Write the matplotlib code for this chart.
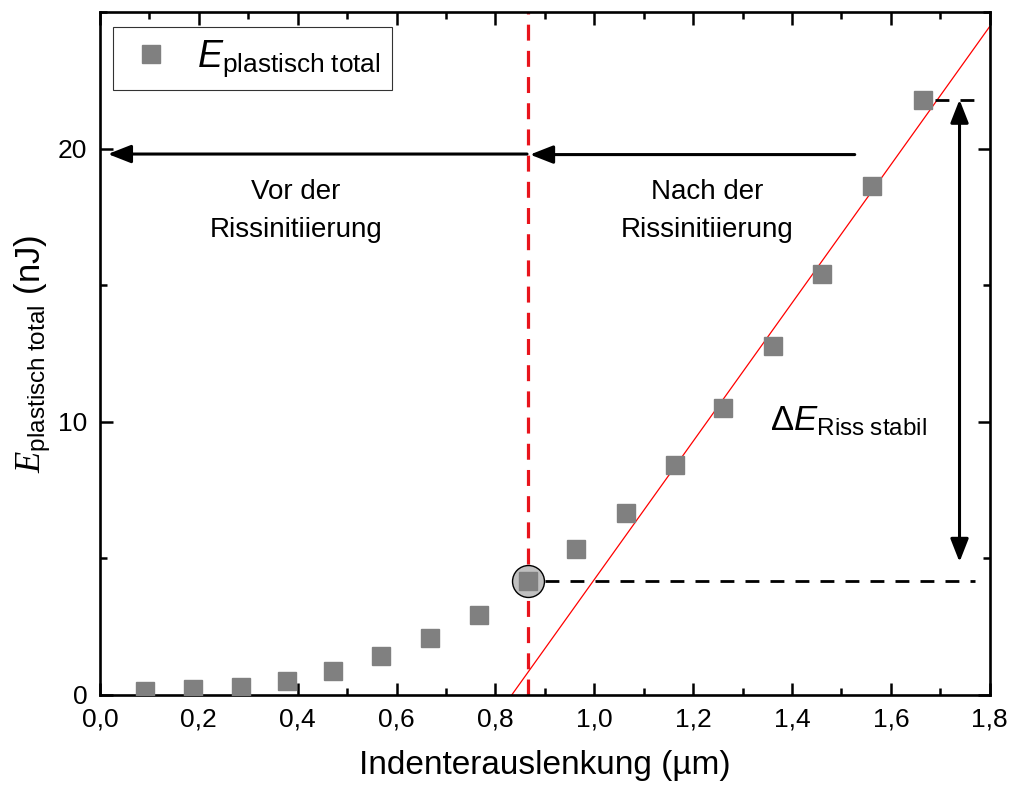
import numpy as np
import matplotlib
matplotlib.use('Agg')
import matplotlib.pyplot as plt
from matplotlib.ticker import MultipleLocator

plt.rcParams['font.family'] = 'Liberation Sans'
plt.rcParams['mathtext.fontset'] = 'custom'
plt.rcParams['mathtext.rm'] = 'Liberation Sans'
plt.rcParams['mathtext.it'] = 'Liberation Serif:italic'
plt.rcParams['mathtext.sf'] = 'Liberation Sans:italic'

# indenter displacement (um) and total plastic energy (nJ)
disp = [0.091, 0.188, 0.285, 0.378, 0.471, 0.568, 0.667, 0.767, 0.866,
        0.963, 1.064, 1.163, 1.260, 1.361, 1.460, 1.561, 1.665]
e_plast = [0.15, 0.22, 0.29, 0.51, 0.88, 1.43, 2.09, 2.93, 4.18,
           5.35, 6.67, 8.42, 10.51, 12.78, 15.42, 18.64, 21.79]

i_crack = 8        # crack initiation point
fit_slope = 25.3   # nJ/um, linear fit after initiation
fit_x0 = 0.833     # x-intercept of the fit

fig = plt.figure(figsize=(10.11, 7.87), dpi=100)
ax = fig.add_axes([0.0989, 0.1169, 0.880, 0.8679])

# linear fit
xf = np.array([fit_x0, 1.8])
ax.plot(xf, fit_slope * (xf - fit_x0), color='red', lw=0.9, zorder=2)

# crack initiation marker
ax.axvline(disp[i_crack], color='#e8141c', lw=2.3, ls=(0, (5.0, 3.2)), zorder=1)
ax.plot(disp[i_crack], e_plast[i_crack], 'o', ms=23, mfc='#c0c0c0', mec='black',
        mew=1.0, zorder=3)

ax.plot(disp, e_plast, 's', color='#808080', ms=12.5, zorder=4,
        label=r'$\mathsf{E}_{\mathrm{plastisch\ total}}$')

# reference levels for the energy difference
ax.plot([0.90, 1.77], [e_plast[i_crack]] * 2, color='black', lw=2.0,
        ls=(0, (5, 4)), zorder=2)
ax.plot([1.689, 1.776], [e_plast[-1]] * 2, color='black', lw=2.0,
        ls=(0, (5, 4)), zorder=2)

arr = dict(arrowstyle='-|>,head_length=1.4,head_width=0.55', color='black',
           lw=2.2, shrinkA=0, shrinkB=0)
ax.annotate('', xy=(0.016, 19.8), xytext=(0.864, 19.8), arrowprops=arr)
ax.annotate('', xy=(0.870, 19.78), xytext=(1.527, 19.78), arrowprops=arr)
arr2 = dict(arrowstyle='<|-|>,head_length=1.4,head_width=0.55', color='black',
            lw=2.2, shrinkA=0, shrinkB=0)
ax.annotate('', xy=(1.739, e_plast[-1]), xytext=(1.739, 4.87), arrowprops=arr2)

ax.text(0.396, 17.7, 'Vor der\nRissinitiierung', ha='center', va='center',
        fontsize=20, linespacing=1.6)
ax.text(1.228, 17.7, 'Nach der\nRissinitiierung', ha='center', va='center',
        fontsize=20, linespacing=1.6)
ax.text(1.355, 10.0, r'$\Delta\mathsf{E}_{\mathrm{Riss\ stabil}}$',
        ha='left', va='center', fontsize=25)

ax.set_xlim(0, 1.8)
ax.set_ylim(0, 25)
ax.xaxis.set_major_locator(MultipleLocator(0.2))
ax.xaxis.set_minor_locator(MultipleLocator(0.1))
ax.yaxis.set_major_locator(MultipleLocator(10))
ax.yaxis.set_minor_locator(MultipleLocator(5))
ax.xaxis.set_major_formatter(lambda v, p: f'{v:.1f}'.replace('.', ','))

ax.tick_params(which='both', direction='in', top=True, right=True, width=1.8,
               labelsize=19)
ax.tick_params(which='major', length=9, pad=9)
ax.tick_params(which='minor', length=5)
for s in ax.spines.values():
    s.set_linewidth(1.9)

ax.set_xlabel('Indenterauslenkung (µm)', fontsize=24, labelpad=13)
ax.set_ylabel(r'$E_{\mathrm{plastisch\ total}}$ (nJ)', fontsize=25, labelpad=4)

leg = ax.legend(loc='upper left', fontsize=27, frameon=True, fancybox=False,
                edgecolor='black', handletextpad=0.5, handlelength=1.45,
                borderpad=0.3, borderaxespad=0.0,
                bbox_to_anchor=(0.0146, 0.978))
leg.get_frame().set_linewidth(0.8)

fig.savefig('out.png', dpi=100)
